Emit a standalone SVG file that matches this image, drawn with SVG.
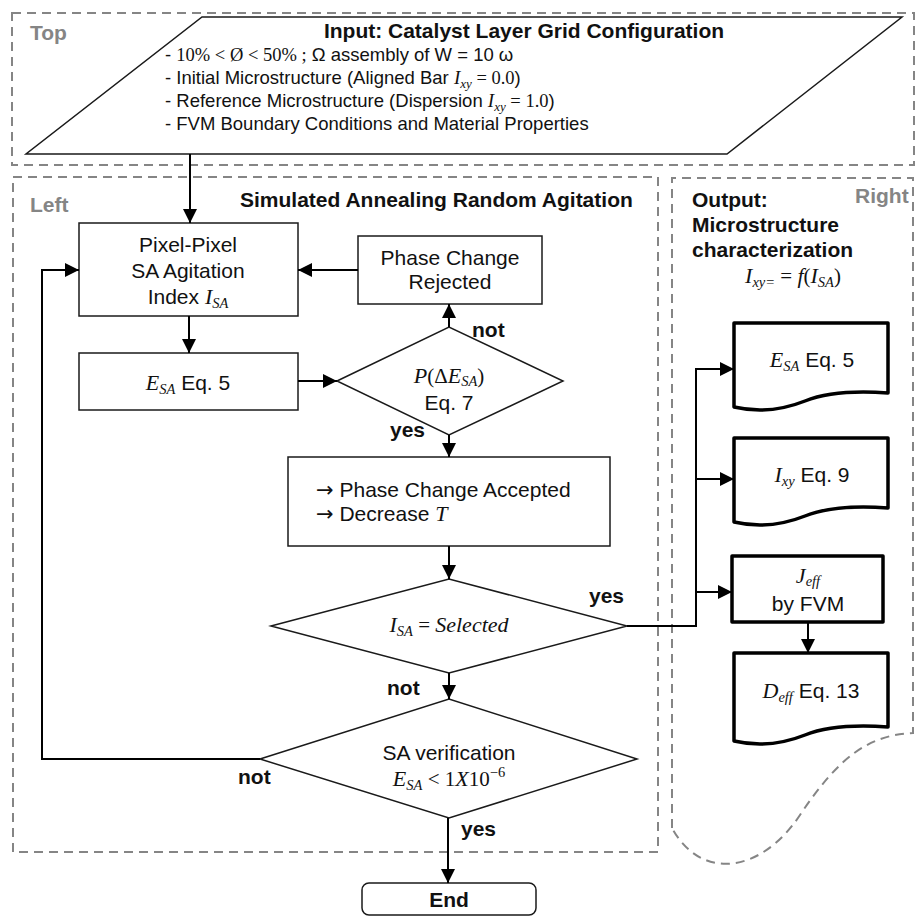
<svg xmlns="http://www.w3.org/2000/svg" width="916" height="917" viewBox="0 0 916 917">
  <style>
    .zone { fill: none; stroke: #858585; stroke-width: 2; stroke-dasharray: 9 6; }
    .box { fill: #fff; stroke: #1a1a1a; stroke-width: 1.5; }
    .doc { fill: #fff; stroke: #000; stroke-width: 3.5; stroke-linejoin: round; }
    .wire { fill: none; stroke: #000; stroke-width: 2; }
    .arrow { marker-end: url(#head); }
    .t { font-family: "Liberation Sans", Arial, sans-serif; font-size: 21px; fill: #111; }
    .s { font-size: 18.5px; }
    .b { font-weight: bold; }
    .zl { font-family: "Liberation Sans", Arial, sans-serif; font-size: 21px; font-weight: bold; fill: #858585; }
    .m { font-family: "Liberation Serif", "DejaVu Serif", serif; font-style: italic; font-size: 22px; }
    .r { font-family: "Liberation Serif", "DejaVu Serif", serif; font-style: normal; }
    .sub { font-size: 14.5px; }
    .s .m { font-size: 19px; }
    .s .sub { font-size: 13px; }
    .ar { font-family: "DejaVu Sans", sans-serif; }
  </style>
  <defs>
    <marker id="head" markerUnits="userSpaceOnUse" markerWidth="14" markerHeight="14" refX="14" refY="7" orient="auto">
      <path d="M0,0 L14,7 L0,14 z" fill="#000"/>
    </marker>
  </defs>

  <!-- swimlane regions -->
  <g id="zones">
    <rect class="zone" x="12" y="13" width="902" height="152"/>
    <rect class="zone" x="13" y="177" width="645" height="675"/>
    <path class="zone" d="M672,828 V178 H913 V733 C870,735 840,755 800,815 C760,875 700,880 672,828 Z"/>
    <text class="zl" x="30" y="40">Top</text>
    <text class="zl" x="30" y="212">Left</text>
    <text class="zl" x="855" y="203">Right</text>
  </g>

  <!-- input parallelogram -->
  <g id="input">
    <polygon class="box" points="202,17 902,17 727,154 26,154"/>
    <text class="t b" x="524" y="38" text-anchor="middle">Input: Catalyst Layer Grid Configuration</text>
    <text class="t s" x="165" y="61">- <tspan class="r">10% &lt; Ø &lt; 50% ;</tspan> Ω assembly of W = 10 ω</text>
    <text class="t s" x="165" y="84">- Initial Microstructure (Aligned Bar <tspan class="m">I</tspan><tspan class="m sub" dy="4">xy</tspan><tspan class="r" dy="-4"> = 0.0</tspan>)</text>
    <text class="t s" x="165" y="107">- Reference Microstructure (Dispersion <tspan class="m">I</tspan><tspan class="m sub" dy="4">xy</tspan><tspan class="r" dy="-4"> = 1.0</tspan>)</text>
    <text class="t s" x="165" y="130">- FVM Boundary Conditions and Material Properties</text>
  </g>

  <text class="t b" x="240" y="207">Simulated Annealing Random Agitation</text>

  <g id="agitation">
    <rect class="box" x="79" y="223" width="219" height="93"/>
    <text class="t" x="188" y="252" text-anchor="middle">Pixel-Pixel</text>
    <text class="t" x="188" y="278" text-anchor="middle">SA Agitation</text>
    <text class="t" x="188" y="304" text-anchor="middle">Index <tspan class="m">I</tspan><tspan class="m sub" dy="4">SA</tspan></text>
  </g>

  <g id="rejected">
    <rect class="box" x="358" y="236" width="184" height="68"/>
    <text class="t" x="450" y="265" text-anchor="middle">Phase Change</text>
    <text class="t" x="450" y="289" text-anchor="middle">Rejected</text>
  </g>

  <g id="energy">
    <rect class="box" x="79" y="353" width="219" height="57"/>
    <text class="t" x="188" y="390" text-anchor="middle"><tspan class="m">E</tspan><tspan class="m sub" dy="4">SA</tspan><tspan dy="-4"> Eq. 5</tspan></text>
  </g>

  <g id="probability">
    <polygon class="box" points="337,381 449,327 563,381 449,435"/>
    <text class="t" x="449" y="383" text-anchor="middle"><tspan class="m">P</tspan><tspan class="r">(Δ</tspan><tspan class="m">E</tspan><tspan class="m sub" dy="3">SA</tspan><tspan class="r" dy="-3">)</tspan></text>
    <text class="t" x="449" y="410" text-anchor="middle">Eq. 7</text>
  </g>

  <g id="accepted">
    <rect class="box" x="288" y="457" width="322" height="89"/>
    <text class="t" x="316" y="497"><tspan class="ar">→</tspan> Phase Change Accepted</text>
    <text class="t" x="316" y="521"><tspan class="ar">→</tspan> Decrease <tspan class="m">T</tspan></text>
  </g>

  <g id="selected">
    <polygon class="box" points="271,626 449,579 627,626 449,673"/>
    <text class="t" x="449" y="632" text-anchor="middle"><tspan class="m">I</tspan><tspan class="m sub" dy="4">SA</tspan><tspan class="r" dy="-4"> = </tspan><tspan class="m">Selected</tspan></text>
  </g>

  <g id="verification">
    <polygon class="box" points="260,759 449,699 637,759 449,818"/>
    <text class="t" x="449" y="760" text-anchor="middle">SA verification</text>
    <text class="t" x="449" y="786" text-anchor="middle"><tspan class="m">E</tspan><tspan class="m sub" dy="4">SA</tspan><tspan class="r" dy="-4"> &lt; 1</tspan><tspan class="m">X</tspan><tspan class="r">10</tspan><tspan class="r sub" dy="-9">−6</tspan></text>
  </g>

  <g id="end">
    <rect class="box" x="362" y="883" width="174" height="32" rx="7"/>
    <text class="t b" x="449" y="907" text-anchor="middle">End</text>
  </g>

  <!-- output column -->
  <g id="output-title">
    <text class="t b" x="692" y="207">Output:</text>
    <text class="t b" x="692" y="232">Microstructure</text>
    <text class="t b" x="692" y="257">characterization</text>
    <text class="t" x="793" y="283" text-anchor="middle"><tspan class="m">I</tspan><tspan class="m sub" dy="4">xy=</tspan><tspan class="r" dy="-4"> = </tspan><tspan class="m">f</tspan><tspan class="r">(</tspan><tspan class="m">I</tspan><tspan class="m sub" dy="4">SA</tspan><tspan class="r" dy="-4">)</tspan></text>
  </g>

  <g id="doc-energy">
    <path class="doc" d="M734,323 H888 V393 C860,391 830,391 805,401 C785,409 760,413 734,407 Z"/>
    <text class="t" x="812" y="367" text-anchor="middle"><tspan class="m">E</tspan><tspan class="m sub" dy="4">SA</tspan><tspan dy="-4"> Eq. 5</tspan></text>
  </g>

  <g id="doc-index">
    <path class="doc" d="M734,438 H888 V508 C860,506 830,506 805,516 C785,524 760,528 734,522 Z"/>
    <text class="t" x="812" y="482" text-anchor="middle"><tspan class="m">I</tspan><tspan class="m sub" dy="4">xy</tspan><tspan dy="-4"> Eq. 9</tspan></text>
  </g>

  <g id="fvm">
    <rect class="doc" x="732" y="556" width="151" height="66" stroke-width="3"/>
    <text class="t" x="808" y="583" text-anchor="middle"><tspan class="m">J</tspan><tspan class="m sub" dy="3">eff</tspan></text>
    <text class="t" x="808" y="611" text-anchor="middle">by FVM</text>
  </g>

  <g id="doc-diffusivity">
    <path class="doc" d="M734,653 H888 V727 C860,725 830,725 805,735 C785,743 760,747 734,741 Z"/>
    <text class="t" x="811" y="698" text-anchor="middle"><tspan class="m">D</tspan><tspan class="m sub" dy="4">eff</tspan><tspan dy="-4"> Eq. 13</tspan></text>
  </g>

  <!-- connectors -->
  <g id="connectors">
    <path class="wire arrow" d="M190,154 V223"/>
    <path class="wire arrow" d="M189,316 V353"/>
    <path class="wire arrow" d="M298,381 H337"/>
    <path class="wire arrow" d="M449,327 V304"/>
    <path class="wire arrow" d="M358,270 H298"/>
    <path class="wire arrow" d="M449,435 V457"/>
    <path class="wire arrow" d="M449,546 V579"/>
    <path class="wire arrow" d="M449,673 V699"/>
    <path class="wire arrow" d="M448,818 V883"/>
    <path class="wire arrow" d="M260,759 H42 V270 H79"/>
    <path class="wire" d="M627,626 H696 V369"/>
    <path class="wire arrow" d="M695,369 H734"/>
    <path class="wire arrow" d="M695,479 H734"/>
    <path class="wire arrow" d="M695,592 H732"/>
    <path class="wire arrow" d="M808,622 V653"/>
    <text class="t b" x="472" y="337">not</text>
    <text class="t b" x="390" y="437">yes</text>
    <text class="t b" x="589" y="603">yes</text>
    <text class="t b" x="387" y="695">not</text>
    <text class="t b" x="238" y="784">not</text>
    <text class="t b" x="461" y="836">yes</text>
  </g>
</svg>
